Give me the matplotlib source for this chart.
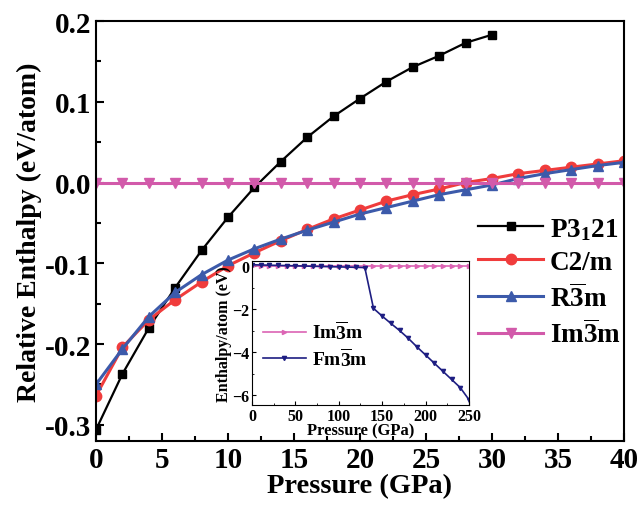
import matplotlib
matplotlib.use("Agg")
import matplotlib.pyplot as plt
import numpy as np

plt.rcParams['font.family'] = ['Liberation Serif', 'DejaVu Serif']
plt.rcParams['font.weight'] = 'bold'
plt.rcParams['mathtext.fontset'] = 'custom'
plt.rcParams['mathtext.rm'] = 'Liberation Serif:bold'
plt.rcParams['mathtext.it'] = 'Liberation Serif:bold'
plt.rcParams['mathtext.bf'] = 'Liberation Serif:bold'

# main panel data (GPa, eV/atom relative to Im-3m)
p_p3121 = [0, 2, 4, 6, 8, 10, 12, 14, 16, 18, 20, 22, 24, 26, 28, 30]
h_p3121 = [-0.306, -0.237, -0.180, -0.130, -0.084, -0.043, -0.006, 0.026,
           0.056, 0.082, 0.104, 0.125, 0.143, 0.157, 0.173, 0.183]

p_all = [0, 2, 4, 6, 8, 10, 12, 14, 16, 18, 20, 22, 24, 26, 28, 30,
         32, 34, 36, 38, 40]
h_c2m = [-0.264, -0.204, -0.170, -0.145, -0.123, -0.103, -0.087, -0.072,
         -0.058, -0.045, -0.034, -0.023, -0.015, -0.008, 0.000, 0.005,
         0.011, 0.015, 0.019, 0.023, 0.027]
h_r3m = [-0.250, -0.206, -0.166, -0.136, -0.114, -0.096, -0.082, -0.070,
         -0.059, -0.049, -0.039, -0.031, -0.023, -0.015, -0.009, -0.003,
         0.005, 0.011, 0.016, 0.021, 0.025]
h_im3m = [0.0] * len(p_all)

# inset data (GPa, eV/atom)
p_inset = [0, 10, 20, 30, 40, 50, 60, 70, 80, 90, 100, 110, 120, 130,
           140, 150, 160, 170, 180, 190, 200, 210, 220, 230, 240, 250]
e_im3m_inset = [0.0] * len(p_inset)
e_fm3m_inset = [0.08, 0.07, 0.06, 0.05, 0.04, 0.03, 0.02, 0.01, 0.0, -0.01,
                -0.02, -0.03, -0.04, -0.05, -1.95, -2.31, -2.65, -2.98,
                -3.34, -3.74, -4.12, -4.50, -4.88, -5.26, -5.64, -6.20]

fig = plt.figure(figsize=(6.38, 5.06), dpi=100)
ax = fig.add_axes([0.1505, 0.1265, 0.8275, 0.83])

ax.plot(p_p3121, h_p3121, color='black', marker='s', ms=6, lw=1.6,
        label=r'P3$_1$21')
ax.plot(p_all, h_c2m, color='#f03c3c', marker='o', ms=7.5, lw=2.2,
        label='C2/m')
ax.plot(p_all, h_r3m, color='#3c5aaa', marker='^', ms=7.5, lw=2.2,
        label=r'R$\overline{3}$m')
ax.plot(p_all, h_im3m, color='#d25aaa', marker='v', ms=7.5, lw=2.2,
        label=r'Im$\overline{3}$m')

ax.set_xlim(0, 40)
ax.set_ylim(-0.32, 0.2)
ax.set_xticks(np.arange(0, 41, 5))
ax.set_xticks(np.arange(0, 41, 2.5), minor=True)
ax.set_yticks([-0.3, -0.2, -0.1, 0.0, 0.1, 0.2])
ax.set_yticks(np.arange(-0.3, 0.21, 0.05), minor=True)
ax.set_yticklabels(['-0.3', '-0.2', '-0.1', '0.0', '0.1', '0.2'])
ax.tick_params(which='both', direction='in', labelsize=21, width=1.5)
ax.tick_params(which='major', length=6)
ax.tick_params(which='minor', length=3.5)
for s in ax.spines.values():
    s.set_linewidth(1.5)
ax.set_xlabel('Pressure (GPa)', fontsize=20.5, fontweight='bold', labelpad=0)
ax.set_ylabel('Relative Enthalpy (eV/atom)', fontsize=20,
              fontweight='bold', labelpad=2)

ax.legend(loc='upper right', bbox_to_anchor=(1.025, 0.575), fontsize=19.5,
          frameon=False, handlelength=2.4, labelspacing=0.3,
          handletextpad=0.25, borderaxespad=0.2)

# inset
axi = fig.add_axes([0.395, 0.1976, 0.340, 0.2844])
axi.plot(p_inset, e_im3m_inset, color='#dc64b4', marker='>', ms=3, lw=1.2,
         label=r'Im$\overline{3}$m')
axi.plot(p_inset, e_fm3m_inset, color='#1e1e82', marker='v', ms=3, lw=1.2,
         label=r'Fm$\overline{3}$m')
axi.set_xlim(0, 250)
axi.set_ylim(-6.45, 0.25)
axi.set_xticks([0, 50, 100, 150, 200, 250])
axi.set_xticks(np.arange(0, 251, 25), minor=True)
axi.set_yticks([0, -2, -4, -6])
axi.set_yticks(np.arange(-6, 0.1, 1), minor=True)
axi.tick_params(which='both', direction='in', labelsize=11.5, pad=2)
axi.tick_params(which='major', length=3)
axi.tick_params(which='minor', length=1.5)
axi.set_xlabel('Pressure (GPa)', fontsize=12, fontweight='bold',
               labelpad=-1)
axi.set_ylabel('Enthalpy/atom (eV)', fontsize=11.5, fontweight='bold',
               labelpad=0)
axi.legend(loc='center left', bbox_to_anchor=(-0.03, 0.42), fontsize=14,
           frameon=False, handlelength=2.2, labelspacing=0.2,
           handletextpad=0.3)

fig.savefig('out.png', dpi=100)
